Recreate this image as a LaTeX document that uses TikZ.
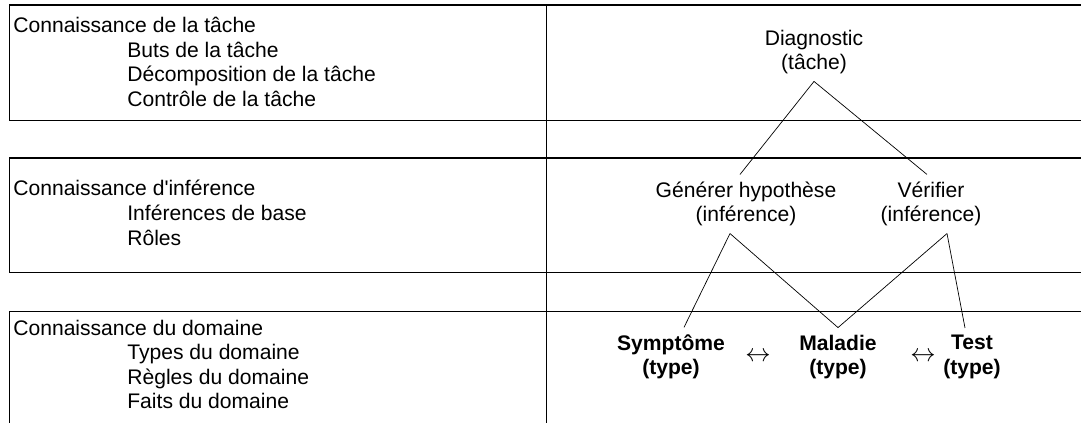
\documentclass[tikz,border=0pt]{standalone}
\usepackage{fontspec}
\setmainfont{Liberation Sans}
\usepackage{tikz}
\usetikzlibrary{arrows.meta,positioning}

\begin{document}
\begin{tikzpicture}[>=Latex,
  every node/.style={font=\fontsize{12}{13.9}\selectfont},
  lbl/.style={anchor=base west,inner sep=0pt},
  task/.style={align=center,inner sep=4pt},
  typ/.style={align=center,inner sep=4pt,font=\fontsize{12}{13.9}\selectfont\bfseries},
  box/.style={line width=0.6pt},
  link/.style={line width=0.4pt}]
  \useasboundingbox (0,0) rectangle (21.62,-8.46);
  % the three layers and the column rule
  \draw[box] (21.7,-0.1) -| (0.19,-2.41) -- (21.7,-2.41);
  \draw[box] (21.7,-3.16) -| (0.19,-5.45) -- (21.7,-5.45);
  \draw[box] (21.7,-6.23) -| (0.19,-8.6);
  \draw[box] (10.93,-0.1) -- (10.93,-8.6);
  % left column
  \node[lbl] (ktache) at (0.26,-0.66) {Connaissance de la tâche};
  \node[lbl] (buts) at (2.54,-1.15) {Buts de la tâche};
  \node[lbl] (decomp) at (2.54,-1.64) {Décomposition de la tâche};
  \node[lbl] (controle) at (2.54,-2.13) {Contrôle de la tâche};
  \node[lbl] (kinf) at (0.26,-3.92) {Connaissance d\textquotesingle inférence};
  \node[lbl] (infbase) at (2.54,-4.41) {Inférences de base};
  \node[lbl] (roles) at (2.54,-4.90) {Rôles};
  \node[lbl] (kdom) at (0.26,-6.70) {Connaissance du domaine};
  \node[lbl] (types) at (2.54,-7.19) {Types du domaine};
  \node[lbl] (regles) at (2.54,-7.68) {Règles du domaine};
  \node[lbl] (faits) at (2.54,-8.17) {Faits du domaine};
  % right column
  \node[task] (diag) at (16.28,-1.04) {Diagnostic\\(tâche)};
  \node[task] (gen) at (14.92,-4.08) {Générer hypothèse\\(inférence)};
  \node[task] (ver) at (18.62,-4.08) {Vérifier\\(inférence)};
  \node[typ] (sym) at (13.42,-7.14) {Symptôme\\(type)};
  \node[typ] (mal) at (16.76,-7.14) {Maladie\\(type)};
  \node[typ] (test) at (19.44,-7.14) {Test\\(type)};
  \node[font=\fontsize{14}{16}\selectfont] (symmal) at (15.16,-7.14) {$\leftrightarrow$};
  \node[font=\fontsize{14}{16}\selectfont] (maltest) at (18.46,-7.14) {$\leftrightarrow$};
  \draw[link] (diag.south) -- ([xshift=-0.12cm]gen.north);
  \draw[link] (diag.south) -- ([xshift=-0.08cm]ver.north);
  \draw[link] ([xshift=-0.32cm]gen.south) -- ([xshift=0.26cm]sym.north);
  \draw[link] ([xshift=-0.32cm]gen.south) -- (mal.north);
  \draw[link] ([xshift=0.32cm]ver.south) -- (mal.north);
  \draw[link] ([xshift=0.32cm]ver.south) -- ([xshift=-0.14cm]test.north);
\end{tikzpicture}
\end{document}
